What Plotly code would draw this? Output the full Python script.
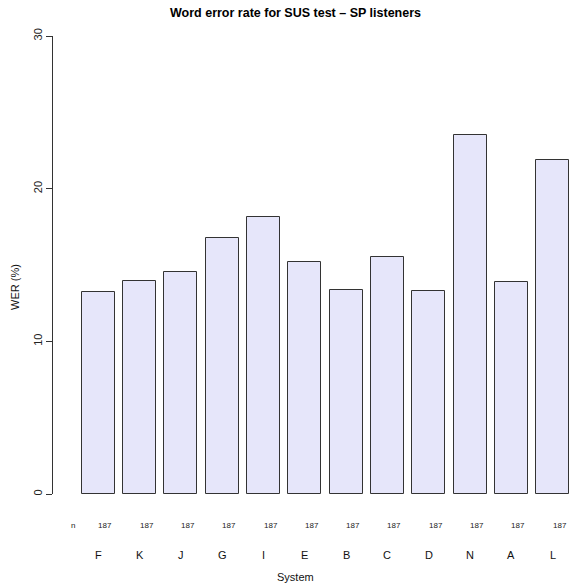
import plotly.graph_objects as go

# Datos del gráfico
systems = ["F", "K", "J", "G", "I", "E", "B", "C", "D", "N", "A", "L"]
wer = [13.2, 13.93, 14.52, 16.76, 18.14, 15.21, 13.38, 15.54, 13.29, 23.51, 13.86, 21.87]
n_listeners = [187] * len(systems)
y_ticks = [0, 10, 20, 30]

font = "Liberation Sans, Arial, sans-serif"

W, H = 570, 585
L, T, B = 53, 36, 91
plot_w, plot_h = W - L, H - T - B

fig = go.Figure()
fig.add_trace(go.Bar(
    x=systems, y=wer, width=0.8,
    marker=dict(color="#E6E6FA", line=dict(color="#333333", width=1)),
))

annotations = []
# fila de n y letras de sistema
annotations.append(dict(x=-0.62, y=0, xref="x", yref="paper", text="n", showarrow=False,
                        xanchor="center", yanchor="middle", yshift=-31,
                        font=dict(size=8, color="#222")))
for s, n in zip(systems, n_listeners):
    annotations.append(dict(x=s, y=0, xref="x", yref="paper", text=str(n), showarrow=False,
                            xanchor="center", yanchor="middle", yshift=-31, xshift=7,
                            font=dict(size=8, color="#222")))
    annotations.append(dict(x=s, y=0, xref="x", yref="paper", text=s, showarrow=False,
                            xanchor="center", yanchor="middle", yshift=-61,
                            font=dict(size=11, color="#111")))
annotations.append(dict(x=(295.5 - L) / plot_w, y=0, xref="paper", yref="paper", text="System",
                        showarrow=False, xanchor="center", yanchor="middle", yshift=-83,
                        font=dict(size=11, color="#111")))
annotations.append(dict(x=(15 - L) / plot_w, y=(plot_h + T - 287) / plot_h, xref="paper", yref="paper",
                        text="WER (%)", showarrow=False, textangle=-90,
                        xanchor="center", yanchor="middle", font=dict(size=11, color="#111")))
annotations.append(dict(x=(295.5 - L) / plot_w, y=1, xref="paper", yref="paper",
                        text="<b>Word error rate for SUS test \u2013 SP listeners</b>",
                        showarrow=False, xanchor="center", yanchor="middle", yshift=23,
                        font=dict(size=12.5, color="#000")))

fig.update_layout(
    width=W, height=H,
    margin=dict(l=L, r=0, t=T, b=B),
    paper_bgcolor="white", plot_bgcolor="white",
    showlegend=False,
    font=dict(family=font, color="#111"),
    annotations=annotations,
    xaxis=dict(range=[-1.097, 11.42], showticklabels=False, ticks="", showline=False,
               showgrid=False, zeroline=False, fixedrange=True),
    yaxis=dict(range=[0, 30], tickvals=y_ticks, tickangle=-90, ticks="outside", ticklen=6,
               tickcolor="#333", showline=True, linecolor="#333", linewidth=1,
               showgrid=False, zeroline=False, tickfont=dict(size=11, color="#222"),
               fixedrange=True),
    bargap=0,
)

# sin el margen por defecto del body la figura ocupa toda la ventana
fig.write_html("out.html", config={"displayModeBar": False},
               post_script="document.body.style.margin='0';")
